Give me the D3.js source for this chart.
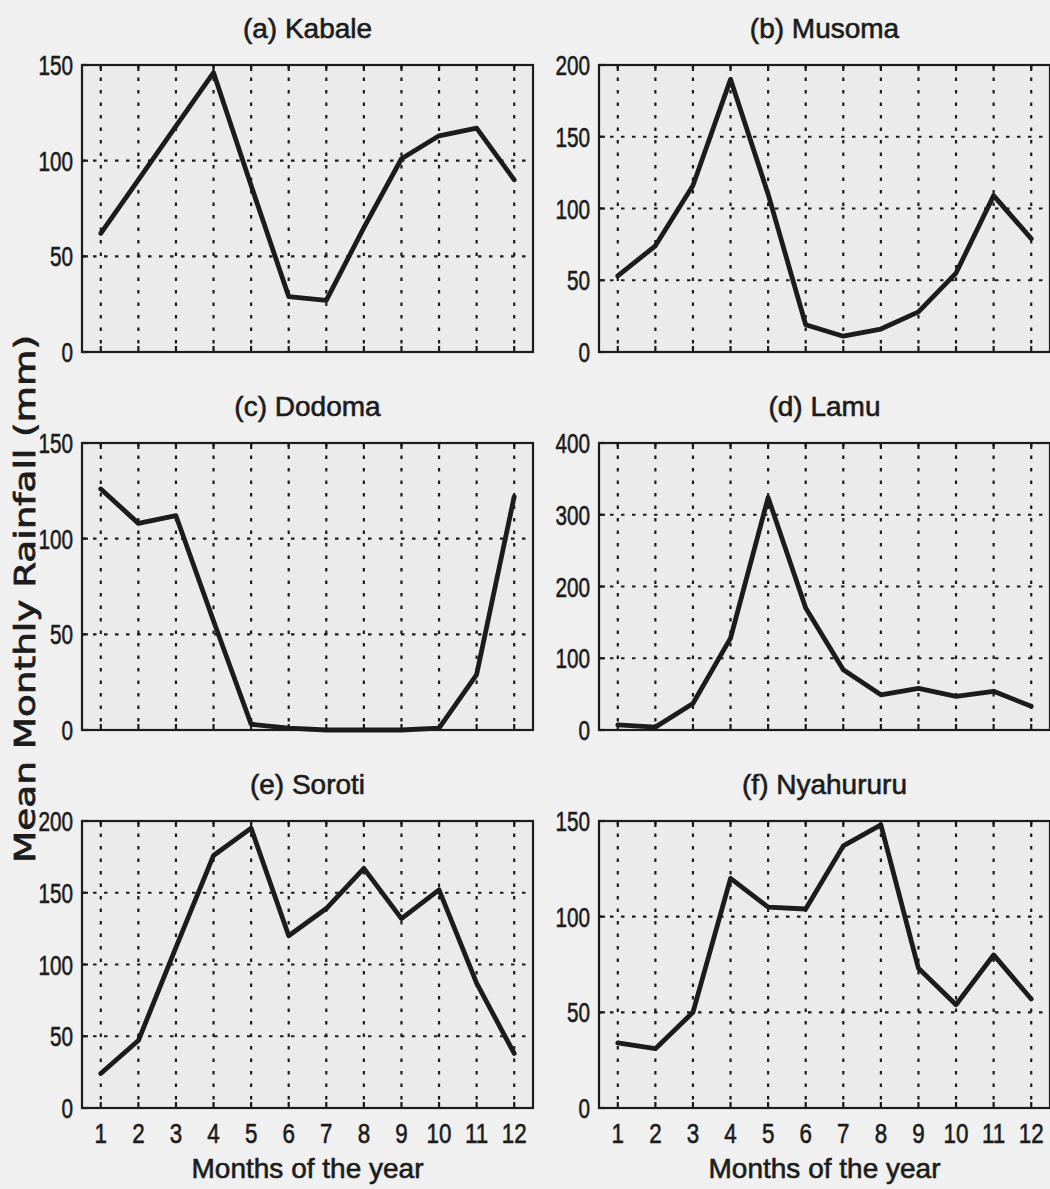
<!DOCTYPE html>
<html>
<head>
<meta charset="utf-8">
<script src="https://cdn.jsdelivr.net/npm/d3@7"></script>
<style>
  html, body { margin: 0; padding: 0; background: #f0f0f0; }
  svg { display: block; }
</style>
</head>
<body>
<svg id="chart" width="1050" height="1189"></svg>
<script>
// ---- data (mean monthly rainfall, mm) ----
const months = [1, 2, 3, 4, 5, 6, 7, 8, 9, 10, 11, 12];
const monthLabels = ["1","2","3","4","5","6","7","8","9","10","11","12"];
const titles = ["(a) Kabale", "(b) Musoma", "(c) Dodoma", "(d) Lamu", "(e) Soroti", "(f) Nyahururu"];
const kabale    = [62, 90, 118, 146, 87, 29, 27, 65, 101, 113, 117, 90];
const musoma    = [53, 74, 116, 190, 110, 19, 11, 16, 28, 55, 109, 79];
const dodoma    = [126, 108, 112, 57, 3, 1, 0, 0, 0, 1, 29, 122];
const lamu      = [7, 4, 37, 128, 324, 170, 84, 49, 58, 47, 54, 33];
const soroti    = [24, 47, 112, 176, 195, 120, 139, 167, 132, 152, 87, 38];
const nyahururu = [34, 31, 50, 120, 105, 104, 137, 148, 73, 54, 80, 57];
const seriesList = [kabale, musoma, dodoma, lamu, soroti, nyahururu];
const yTicksList = [
  [0, 50, 100, 150],
  [0, 50, 100, 150, 200],
  [0, 50, 100, 150],
  [0, 100, 200, 300, 400],
  [0, 50, 100, 150, 200],
  [0, 50, 100, 150]
];
const xLabel = "Months of the year";
const yLabel = "Mean Monthly Rainfall (mm)";

// ---- layout ----
const svg = d3.select("#chart");
const colX = [82, 599];
const rowY = [65, 443, 821];
const pw = 451, ph = 287;
const ink = "#1c1c1c";
const fontMain = "'Liberation Sans', Arial, sans-serif";

function inkText(sel) {
  return sel.attr("fill", ink).attr("stroke", ink).attr("stroke-width", 0.6);
}

seriesList.forEach((vals, i) => {
  const col = i % 2, row = Math.floor(i / 2);
  const x0 = colX[col], y0 = rowY[row];
  const ticks = yTicksList[i];
  const x = d3.scaleLinear().domain([0.5, 12.5]).range([x0, x0 + pw]);
  const y = d3.scaleLinear().domain([0, ticks[ticks.length - 1]]).range([y0 + ph, y0]);
  const g = svg.append("g");

  // plot background
  g.append("rect").attr("x", x0).attr("y", y0).attr("width", pw).attr("height", ph)
    .attr("fill", "#ebebeb");

  // vertical dotted grid
  g.selectAll(".vg").data(months).join("line")
    .attr("x1", d => x(d)).attr("x2", d => x(d))
    .attr("y1", y0).attr("y2", y0 + ph)
    .attr("stroke", ink).attr("stroke-width", 2.2).attr("stroke-dasharray", "3.5,9");
  // horizontal dotted grid
  g.selectAll(".hg").data(ticks.slice(1, -1)).join("line")
    .attr("x1", x0).attr("x2", x0 + pw)
    .attr("y1", d => y(d)).attr("y2", d => y(d))
    .attr("stroke", ink).attr("stroke-width", 2.2).attr("stroke-dasharray", "3.5,7.5");

  // inner ticks
  g.selectAll(".tt").data(months).join("line")
    .attr("x1", d => x(d)).attr("x2", d => x(d)).attr("y1", y0).attr("y2", y0 + 6)
    .attr("stroke", ink).attr("stroke-width", 2.2);
  g.selectAll(".tb").data(months).join("line")
    .attr("x1", d => x(d)).attr("x2", d => x(d)).attr("y1", y0 + ph).attr("y2", y0 + ph - 6)
    .attr("stroke", ink).attr("stroke-width", 2.2);
  g.selectAll(".tl").data(ticks).join("line")
    .attr("x1", x0).attr("x2", x0 + 6).attr("y1", d => y(d)).attr("y2", d => y(d))
    .attr("stroke", ink).attr("stroke-width", 2.2);

  // frame
  g.append("rect").attr("x", x0).attr("y", y0).attr("width", pw).attr("height", ph)
    .attr("fill", "none").attr("stroke", ink).attr("stroke-width", 2.2);

  // y tick labels (condensed)
  inkText(g.selectAll(".yl").data(ticks).join("text")
    .attr("transform", d => `translate(${x0 - 9},${y(d)}) scale(0.74,1)`)
    .attr("text-anchor", "end").attr("dy", "0.36em")
    .attr("font-family", fontMain).attr("font-size", 28)
    .text(d => d));

  // data line
  const line = d3.line().x((d, k) => x(months[k])).y(d => y(d));
  g.append("path").datum(vals).attr("d", line)
    .attr("fill", "none").attr("stroke", ink).attr("stroke-width", 4.8)
    .attr("stroke-linejoin", "round").attr("stroke-linecap", "round");

  // title
  inkText(g.append("text").attr("x", x0 + pw / 2).attr("y", y0 - 27)
    .attr("text-anchor", "middle")
    .attr("font-family", fontMain).attr("font-size", 28)
    .text(titles[i]));

  // x tick labels & x label for bottom row
  if (row === 2) {
    inkText(g.selectAll(".xl").data(months).join("text")
      .attr("transform", d => `translate(${x(d)},${y0 + ph + 35}) scale(0.8,1)`)
      .attr("text-anchor", "middle")
      .attr("font-family", fontMain).attr("font-size", 28)
      .text((d, k) => monthLabels[k]));
    inkText(g.append("text").attr("x", x0 + pw / 2).attr("y", y0 + ph + 70)
      .attr("text-anchor", "middle")
      .attr("font-family", fontMain).attr("font-size", 28)
      .text(xLabel));
  }
});

// shared y label
svg.append("text")
  .attr("transform", "translate(35,599) rotate(-90)")
  .attr("text-anchor", "middle")
  .attr("font-family", "'DejaVu Sans', Verdana, sans-serif").attr("font-size", 29)
  .attr("textLength", 528).attr("lengthAdjust", "spacingAndGlyphs")
  .attr("fill", ink).attr("stroke", ink).attr("stroke-width", 0.8)
  .text(yLabel);
</script>
</body>
</html>
